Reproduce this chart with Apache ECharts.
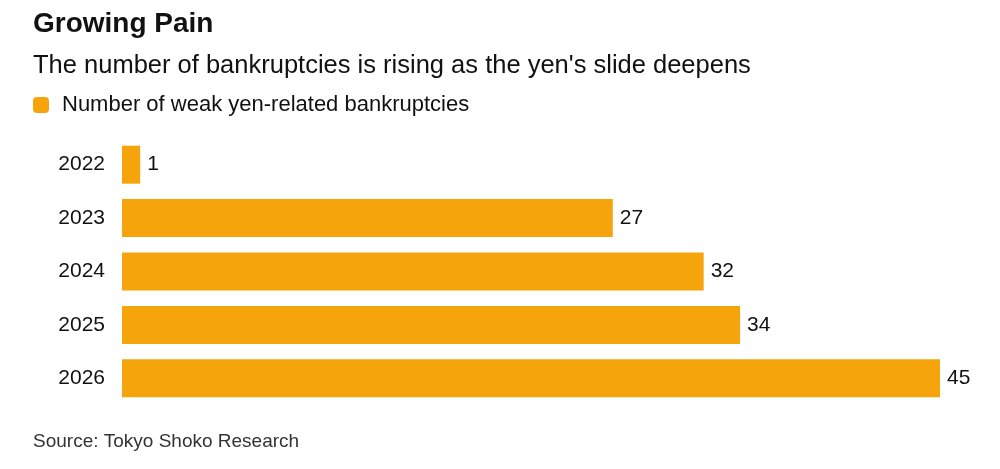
<!DOCTYPE html>
<html>
<head>
<meta charset="utf-8">
<script src="https://cdn.jsdelivr.net/npm/echarts@6/dist/echarts.min.js"></script>
<style>
  html, body { margin: 0; padding: 0; background: #fff; }
  #chart { width: 1000px; height: 469px; }
</style>
</head>
<body>
<div id="chart"></div>
<script>
// data
const years = ['2022', '2023', '2024', '2025', '2026'];
const bankruptcies = [1, 27, 32, 34, 45];

const chart = echarts.init(document.getElementById('chart'));
const font = '"Liberation Sans", Arial, sans-serif';
const barColor = '#f5a40c';

const options = {
  animation: false,
  textStyle: { fontFamily: font },
  title: [
    {
      text: 'Growing Pain',
      left: 33, top: 10, padding: 0,
      textStyle: { fontFamily: font, fontSize: 28, fontWeight: 'bold', color: '#111' }
    },
    {
      text: "The number of bankruptcies is rising as the yen's slide deepens",
      left: 33, top: 53, padding: 0,
      textStyle: { fontFamily: font, fontSize: 25.5, fontWeight: 'normal', color: '#111' }
    },
    {
      text: 'Source: Tokyo Shoko Research',
      left: 33, top: 432, padding: 0,
      textStyle: { fontFamily: font, fontSize: 19, fontWeight: 'normal', color: '#333' }
    }
  ],
  legend: {
    left: 33, top: 94, padding: 0,
    icon: 'roundRect',
    itemWidth: 16, itemHeight: 16,
    textStyle: { fontFamily: font, fontSize: 22, color: '#111', padding: [0, 0, 0, 8] },
    data: ['Number of weak yen-related bankruptcies']
  },
  grid: { left: 122, right: 60, top: 138, bottom: 64, containLabel: false },
  xAxis: {
    type: 'value', min: 0, max: 45,
    show: false
  },
  yAxis: {
    type: 'category',
    data: years,
    inverse: true,
    axisLine: { show: false },
    axisTick: { show: false },
    axisLabel: { fontFamily: font, fontSize: 21, color: '#111', margin: 17 }
  },
  series: [
    {
      name: 'Number of weak yen-related bankruptcies',
      type: 'bar',
      data: bankruptcies,
      barWidth: 38,
      itemStyle: { color: barColor },
      label: {
        show: true, position: 'right', distance: 7,
        fontFamily: font, fontSize: 21, color: '#111'
      }
    }
  ]
};

chart.setOption(options);
</script>
</body>
</html>
